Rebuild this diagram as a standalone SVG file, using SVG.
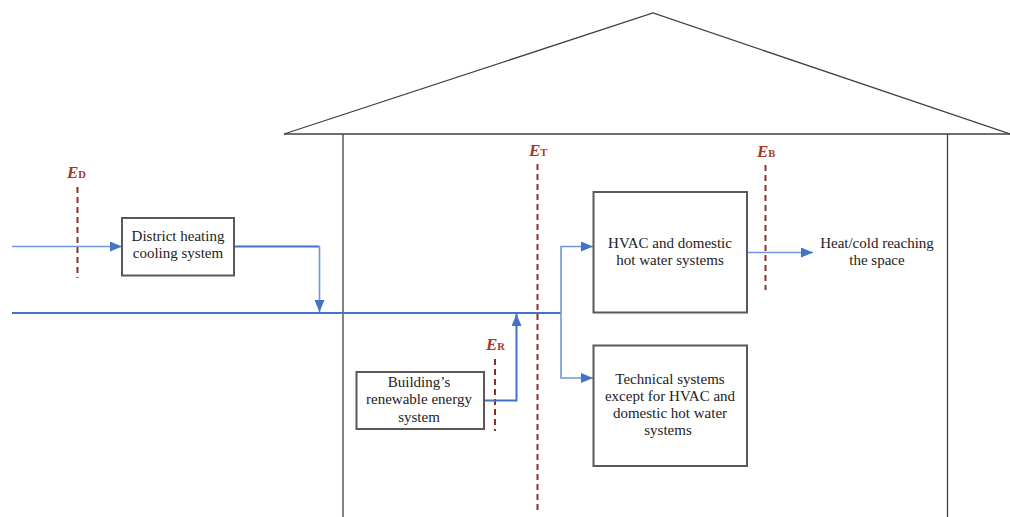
<svg xmlns="http://www.w3.org/2000/svg" width="1010" height="517" viewBox="0 0 1010 517">
<defs>
<marker id="ah" viewBox="0 0 12 10" refX="12" refY="5" markerWidth="12" markerHeight="10" markerUnits="userSpaceOnUse" orient="auto">
<path d="M0,0 L12,5 L0,10 Z" fill="#4472C4"/>
</marker>
<style>
.house{fill:none;stroke:#404040;stroke-width:1.3}
.box{fill:#fff;stroke:#595959;stroke-width:2}
.flow{fill:none;stroke:#4472C4;stroke-width:2}
.flowl{fill:none;stroke:#6F96D8;stroke-width:1.6}
.dash{fill:none;stroke:#8B2E2E;stroke-width:2;stroke-dasharray:6,4}
.t{font-family:"Liberation Serif","DejaVu Serif",serif;font-size:15px;fill:#222;text-anchor:middle}
.e{font-family:"Liberation Serif","DejaVu Serif",serif;font-size:17px;font-weight:bold;font-style:italic;fill:#A33A2A}
.s{font-size:10.5px;font-style:normal}
</style>
</defs>
<g id="house">
<polyline class="house" points="284,134 653,13 1010,134"/>
<line class="house" x1="284" y1="134" x2="1010" y2="134"/>
<line class="house" x1="343" y1="134" x2="343" y2="517"/>
<line class="house" x1="947.5" y1="134" x2="947.5" y2="517"/>
</g>
<g id="boundaries">
<line class="dash" x1="77.5" y1="187" x2="77.5" y2="278"/>
<text class="e" x="67" y="178">E<tspan class="s">D</tspan></text>
<line class="dash" x1="537.5" y1="164" x2="537.5" y2="512"/>
<text class="e" x="529" y="156">E<tspan class="s">T</tspan></text>
<line class="dash" x1="495" y1="359" x2="495" y2="431"/>
<text class="e" x="486" y="350">E<tspan class="s">R</tspan></text>
<line class="dash" x1="765.5" y1="165" x2="765.5" y2="290"/>
<text class="e" x="757" y="157">E<tspan class="s">B</tspan></text>
</g>
<g id="connectors">
<line class="flowl" x1="12" y1="246.5" x2="122" y2="246.5" marker-end="url(#ah)"/>
<polyline class="flow" points="234,246.5 319.5,246.5"/>
<line class="flowl" x1="319.5" y1="246.5" x2="319.5" y2="312" marker-end="url(#ah)"/>
<line class="flow" x1="12" y1="313" x2="561" y2="313"/>
<polyline class="flow" points="484,400.5 516.5,400.5 516.5,314" marker-end="url(#ah)"/>
<polyline class="flowl" points="561,313 561,246.5 593,246.5" marker-end="url(#ah)"/>
<polyline class="flowl" points="561,313 561,378 593,378" marker-end="url(#ah)"/>
<line class="flowl" x1="748" y1="252.5" x2="813" y2="252.5" marker-end="url(#ah)"/>
</g>
<g id="district">
<rect class="box" x="122" y="218" width="112" height="57.5"/>
<text class="t" x="178" y="241">District heating</text>
<text class="t" x="178" y="258">cooling system</text>
</g>
<g id="renewable">
<rect class="box" x="356.5" y="372" width="127.5" height="57"/>
<text class="t" x="419" y="386.5">Building’s</text>
<text class="t" x="419" y="404">renewable energy</text>
<text class="t" x="419" y="421.5">system</text>
</g>
<g id="hvac">
<rect class="box" x="593.5" y="192" width="153.5" height="120.5"/>
<text class="t" x="670" y="248">HVAC and domestic</text>
<text class="t" x="670" y="265">hot water systems</text>
</g>
<g id="technical">
<rect class="box" x="593.5" y="345.5" width="153.5" height="120.5"/>
<text class="t" x="670" y="383.5">Technical systems</text>
<text class="t" x="670" y="400.5">except for HVAC and</text>
<text class="t" x="670" y="417.5">domestic hot water</text>
<text class="t" x="668" y="434.5">systems</text>
</g>
<g id="space">
<text class="t" x="877" y="248">Heat/cold reaching</text>
<text class="t" x="877" y="265">the space</text>
</g>
</svg>
